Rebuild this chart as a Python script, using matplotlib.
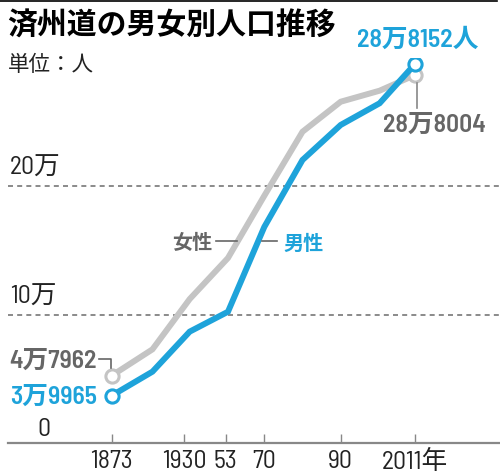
import numpy as np
import matplotlib
matplotlib.use('Agg')
import matplotlib.pyplot as plt
from matplotlib import font_manager

# ── данные ──────────────────────────────────────────────────
years = [1873, 1905, 1933, 1954, 1970, 1980, 1990, 2001, 2011]
male = [36900, 55600, 86800, 102300, 168400, 220600, 247900, 264800, 295400]
female = [52500, 73000, 112200, 144200, 192700, 242600, 266000, 274600, 286800]

tick_years = [1873, 1930, 1953, 1970, 1990, 2011]
tick_labels = ['1873', '1930', '53', '70', '90', '2011年']
grid_values = [100000, 200000]
grid_labels = ['10万', '20万']

title = '済州道の男女別人口推移'
unit = '単位：人'
male_first, male_last = '3万9965', '28万8152人'
female_first, female_last = '4万7962', '28万8004'

BLUE = '#1ea3da'
GRAY = '#c4c4c4'
GRAY_TXT = '#666666'
DARK = '#222222'

W, H = 500, 474
# неравномерная ось X: позиции тиков в пикселях
tick_px = [111.7, 184.3, 225.7, 264.3, 340.7, 415.0]

names = {f.name for f in font_manager.fontManager.ttflist}
narrow = next((n for n in ['Barlow Semi Condensed', 'Asap Condensed', 'Barlow Condensed']
               if n in names), None)
if narrow:
    NUM = [narrow, 'Noto Sans CJK JP']
    NS = 18.5
else:
    NUM = ['Liberation Sans', 'Noto Sans CJK JP']
    NS = 14
JP = ['Noto Sans CJK JP', 'DejaVu Sans']
plt.rcParams['font.family'] = JP


def fx(x):
    return x / W


def fy(y):
    return 1 - y / H


fig = plt.figure(figsize=(W / 100, H / 100), dpi=100)
ax = fig.add_axes([fx(8), fy(443), fx(500) - fx(8), fy(58.1) - fy(443)])
ax.set_xlim(8, 500)
ax.set_ylim(0, 300000)

xs = np.interp(years, tick_years, tick_px)

for v in grid_values:
    ax.axhline(v, color='#777777', lw=1.2, ls=(0, (3, 2.5)), zorder=1)

ax.plot(xs, female, color=GRAY, lw=4.3, solid_joinstyle='miter', zorder=2)
ax.plot(xs, male, color=BLUE, lw=4.3, solid_joinstyle='miter', zorder=3)
for ys, c, z in [(female, GRAY, 2.5), (male, BLUE, 3.5)]:
    ax.plot([xs[0], xs[-1]], [ys[0], ys[-1]], ls='none', marker='o', ms=9.5,
            mfc='white', mec=c, mew=2.2, zorder=z)

for sp in ['top', 'right', 'left']:
    ax.spines[sp].set_visible(False)
ax.spines['bottom'].set_color('#888888')
ax.spines['bottom'].set_linewidth(1.6)
ax.set_yticks([])
ax.set_xticks(tick_px)
ax.set_xticklabels(tick_labels, family=NUM, fontsize=NS, color=DARK)
ax.tick_params(axis='x', direction='in', length=6.5, width=1, color='#888888', pad=5)

# подписи сетки
for v, lab in zip(grid_values, grid_labels):
    ax.text(10, v + 5000, lab, family=NUM, fontsize=NS, color=DARK,
            ha='left', va='bottom')
fig.text(fx(44), fy(429), '0', family=NUM, fontsize=NS, color=DARK,
         ha='center', va='center')

# заголовок
fig.add_artist(plt.Line2D([0, fx(497)], [fy(0.7), fy(0.7)], color='black', lw=1.2))
fig.text(fx(7), fy(26), title, fontsize=21.5, fontweight='bold', color='black',
         ha='left', va='center')
fig.text(fx(8), fy(65), unit, fontsize=15.5, color=DARK, ha='left', va='center')

# подписи значений
fig.text(fx(418), fy(40), male_last, family=NUM, fontsize=NS, fontweight='semibold',
         color=BLUE, ha='center', va='center')
fig.text(fx(434), fy(125), female_last, family=NUM, fontsize=NS, fontweight='semibold',
         color=GRAY_TXT, ha='center', va='center')
fig.add_artist(plt.Line2D([fx(416.5), fx(416.5)], [fy(83), fy(108)], color='#888888', lw=1.2))

fig.text(fx(97), fy(361), female_first, family=NUM, fontsize=NS, fontweight='semibold',
         color=GRAY_TXT, ha='right', va='center')
fig.add_artist(plt.Line2D([fx(99), fx(111), fx(111)], [fy(359), fy(359), fy(368)],
                          color=GRAY_TXT, lw=1.2))
fig.text(fx(97), fy(397), male_first, family=NUM, fontsize=NS, fontweight='semibold',
         color=BLUE, ha='right', va='center')

fig.text(fx(212), fy(243), '女性', fontsize=14.5, fontweight='bold',
         color=GRAY_TXT, ha='right', va='center')
fig.add_artist(plt.Line2D([fx(216), fx(237)], [fy(241), fy(241)], color=GRAY_TXT, lw=1.2))
fig.text(fx(283), fy(243), '男性', fontsize=14.5, fontweight='bold',
         color=BLUE, ha='left', va='center')
fig.add_artist(plt.Line2D([fx(262), fx(277)], [fy(241), fy(241)], color=GRAY_TXT, lw=1.2))

fig.savefig('out.png', dpi=100)
